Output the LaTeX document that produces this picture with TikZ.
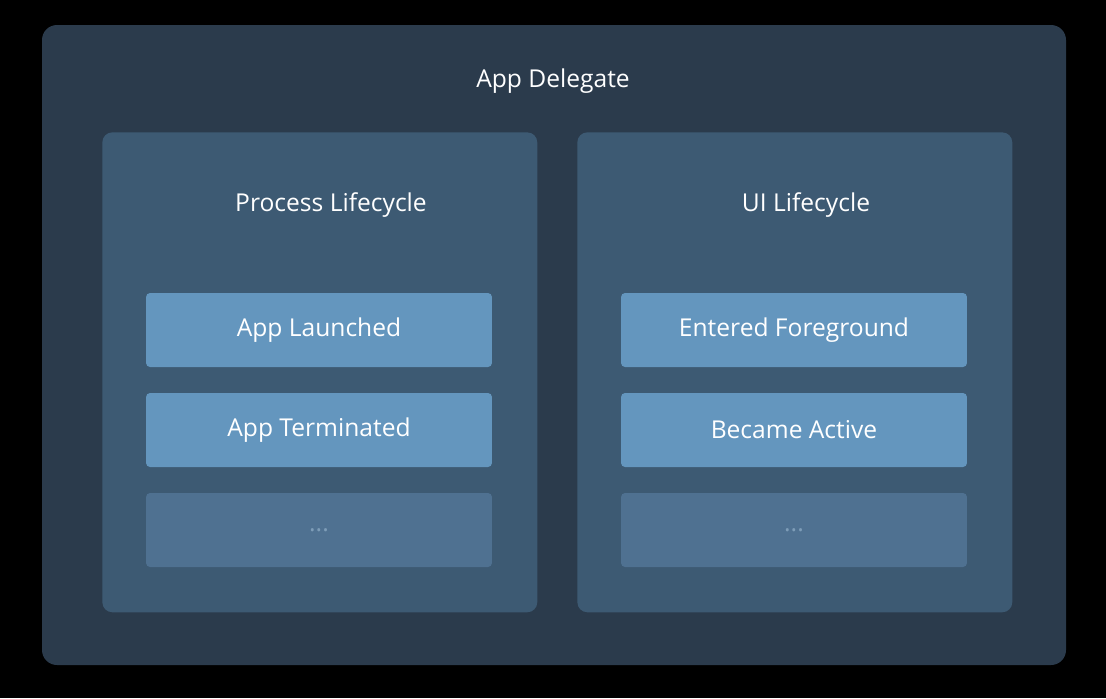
\documentclass[tikz,border=0pt]{standalone}
\usepackage{fontspec}
\setmainfont{Open Sans}
\usepackage{tikz}
\usetikzlibrary{positioning}
\definecolor{outerbg}{HTML}{2B3B4C}
\definecolor{panelbg}{HTML}{3D5A73}
\definecolor{itembg}{HTML}{6496BE}
\definecolor{moreitem}{HTML}{4F7191}
\definecolor{moretext}{HTML}{7E9DB8}
\tikzset{
  panel/.style={fill=panelbg, rounded corners=0.2cm, minimum width=8.7cm, minimum height=9.6cm, anchor=north west},
  item/.style={fill=itembg, rounded corners=0.08cm, minimum width=6.92cm, minimum height=1.48cm, text=white, font=\fontsize{14}{17}\selectfont},
  more/.style={item, fill=moreitem, text=moretext},
  title/.style={text=white, font=\fontsize{14}{17}\selectfont}
}
\begin{document}
\begin{tikzpicture}[x=0.02cm,y=-0.02cm]
    \fill[black] (0,0) rectangle (1106,698);
    \fill[outerbg, rounded corners=0.3cm] (42,25) rectangle (1066,665);
    \node[title] (delegate) at (553,81) {App Delegate};

    % process side
    \node[panel] (process) at (102,132) {};
    \node[title] (processtitle) at (331,205) {Process Lifecycle};
    \node[item] (launched) at (319,330) {App Launched};
    \node[item] (terminated) at (319,430) {App Terminated};
    \node[more] (processmore) at (319,530) {...};

    % ui side
    \node[panel] (ui) at (577,132) {};
    \node[title] (uititle) at (806,205) {UI Lifecycle};
    \node[item] (foreground) at (794,330) {Entered Foreground};
    \node[item] (active) at (794,430) {Became Active};
    \node[more] (uimore) at (794,530) {...};
\end{tikzpicture}
\end{document}
